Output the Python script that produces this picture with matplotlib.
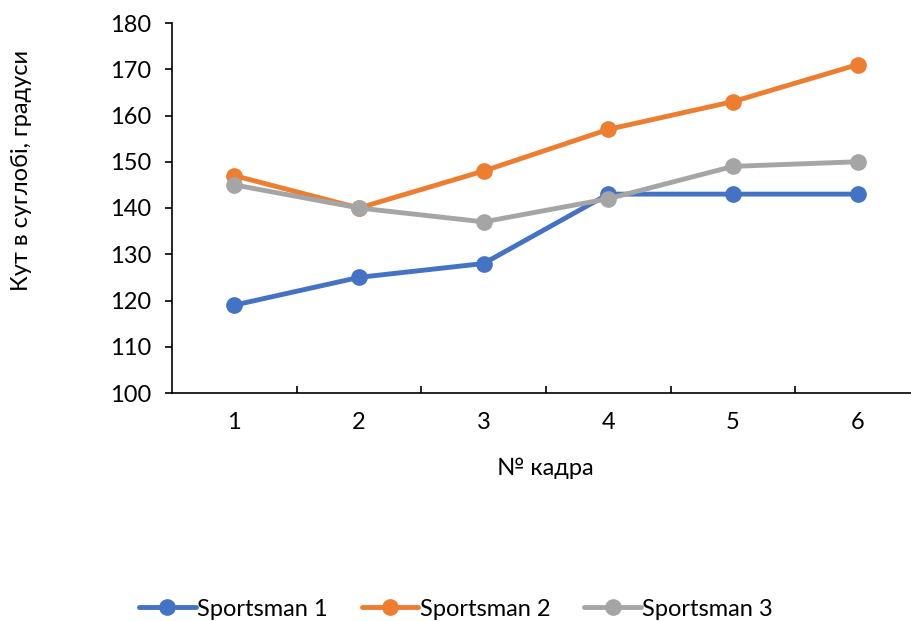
import matplotlib
matplotlib.use("Agg")
import matplotlib.pyplot as plt
from matplotlib.ticker import FixedLocator

plt.rcParams['font.family'] = ['Lato', 'DejaVu Sans']

frames = [1, 2, 3, 4, 5, 6]
sportsman1 = [119, 125, 128, 143, 143, 143]
sportsman2 = [147, 140, 148, 157, 163, 171]
sportsman3 = [145, 140, 137, 142, 149, 150]
series_names = ["Sportsman 1", "Sportsman 2", "Sportsman 3"]
colors = ["#4472C4", "#ED7D31", "#A5A5A5"]
yticks = [100, 110, 120, 130, 140, 150, 160, 170, 180]

W, H = 912, 621
fig = plt.figure(figsize=(W / 100, H / 100), dpi=100)
left, right, top, bottom = 172, 920, 23, 393
ax = fig.add_axes([left / W, 1 - bottom / H, (right - left) / W, (bottom - top) / H])

for vals, name, c in zip([sportsman1, sportsman2, sportsman3], series_names, colors):
    ax.plot(frames, vals, color=c, lw=3.5, marker='o', markersize=11,
            label=name, solid_capstyle='round', clip_on=False)

FS = 17
ax.set_xlim(0.5, 6.5)
ax.set_ylim(100, 180)
ax.set_yticks(yticks)
ax.set_xticks(frames)
ax.xaxis.set_minor_locator(FixedLocator([1.5, 2.5, 3.5, 4.5, 5.5]))
ax.tick_params(axis='x', which='major', length=0, pad=14, labelsize=FS)
ax.tick_params(axis='x', which='minor', length=5, width=1.2, direction='in', top=False)
ax.tick_params(axis='y', length=5, width=1.2, direction='out', pad=10, labelsize=FS)
for s in ['top', 'right']:
    ax.spines[s].set_visible(False)
for s in ['left', 'bottom']:
    ax.spines[s].set_linewidth(1.2)
    ax.spines[s].set_color('black')

fig.text(545 / W, 1 - 468 / H, "№ кадра", ha='center', va='center', fontsize=FS)
fig.text(22 / W, 1 - 170 / H, "Кут в суглобі, градуси", ha='center', va='center',
         rotation=90, fontsize=FS)

leg = fig.legend(loc='center', bbox_to_anchor=(456 / W, 1 - 609 / H), ncol=3, frameon=False,
                 fontsize=FS, handlelength=2.4, columnspacing=1.45, handletextpad=0.05)

fig.savefig("out.png", dpi=100)
